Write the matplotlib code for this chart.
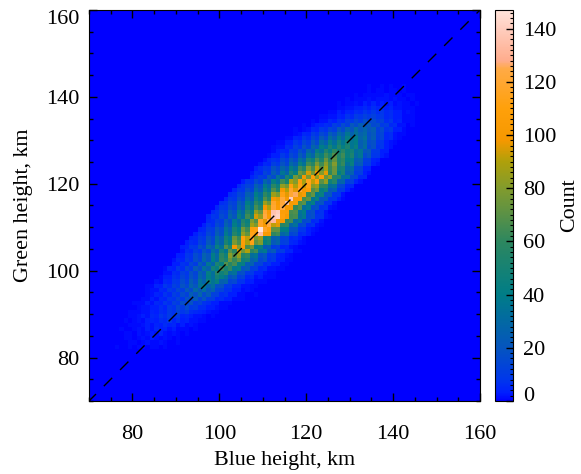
import numpy as np
import matplotlib
matplotlib.use('Agg')
import matplotlib.pyplot as plt
from matplotlib.colors import LinearSegmentedColormap, Normalize
from matplotlib.ticker import MultipleLocator

# histogram counts, one list per 1 km row of green height
first_green = 82
first_blue = [75, 76, 76, 77, 77, 78, 78, 78, 79, 80,
              80, 82, 82, 83, 83, 85, 86, 87, 87, 89,
              89, 90, 91, 91, 92, 93, 94, 95, 96, 97,
              97, 98, 99, 100, 101, 102, 103, 104, 105, 107,
              107, 108, 109, 110, 111, 112, 112, 113, 114, 115,
              116, 117, 118, 119, 120, 121, 122, 123, 124, 125, 126]
counts = [
    [0, 1, 0, 0, 1, 0, 1, 1, 0, 1, 1, 0, 1, 0, 0],
    [0, 0, 0, 1, 1, 0, 1, 2, 1, 1, 2, 1, 0, 0, 1, 0, 0],
    [0, 0, 1, 1, 0, 1, 2, 1, 3, 2, 1, 2, 1, 0, 1, 0, 0],
    [0, 1, 1, 0, 2, 1, 2, 3, 2, 4, 2, 1, 2, 1, 0, 1, 0],
    [1, 0, 0, 1, 2, 1, 3, 2, 5, 3, 4, 2, 3, 1, 1, 1, 0, 1, 0],
    [0, 1, 1, 1, 2, 3, 2, 4, 3, 6, 4, 5, 2, 3, 1, 2, 1, 0, 0],
    [1, 0, 1, 2, 1, 3, 4, 3, 6, 5, 8, 4, 7, 3, 4, 2, 2, 1, 1, 0, 0],
    [0, 1, 1, 2, 3, 2, 5, 4, 8, 6, 10, 7, 9, 4, 5, 3, 2, 2, 1, 0, 1],
    [1, 1, 1, 2, 2, 4, 3, 6, 5, 9, 7, 13, 8, 11, 6, 5, 4, 3, 2, 1, 1, 0, 0],
    [0, 1, 2, 2, 3, 3, 6, 4, 9, 7, 14, 10, 16, 9, 11, 6, 6, 3, 3, 2, 1, 1, 0],
    [1, 1, 1, 3, 2, 5, 4, 8, 6, 12, 9, 17, 12, 19, 10, 13, 7, 6, 3, 3, 1, 1, 1, 0, 0],
    [1, 1, 3, 2, 5, 4, 8, 7, 13, 9, 18, 14, 23, 13, 20, 11, 11, 5, 6, 3, 3, 1, 1, 1, 0],
    [0, 1, 2, 4, 3, 7, 5, 11, 8, 16, 12, 24, 18, 28, 16, 23, 12, 12, 6, 7, 3, 3, 1, 1, 0, 0, 1],
    [1, 2, 2, 5, 4, 9, 7, 14, 11, 21, 16, 30, 22, 33, 21, 27, 14, 13, 7, 7, 3, 3, 1, 2, 1, 0],
    [1, 1, 4, 3, 8, 6, 12, 9, 19, 14, 27, 20, 35, 38, 27, 33, 18, 19, 9, 10, 5, 5, 2, 2, 1, 1, 0],
    [2, 1, 5, 4, 9, 8, 16, 11, 24, 17, 34, 27, 44, 35, 43, 25, 27, 13, 15, 7, 7, 3, 3, 1, 1, 1],
    [1, 3, 3, 7, 6, 13, 9, 19, 14, 29, 22, 40, 33, 49, 42, 34, 19, 23, 11, 13, 5, 6, 2, 3, 1, 1, 1],
    [2, 2, 6, 5, 11, 8, 18, 13, 27, 21, 42, 33, 56, 46, 54, 31, 34, 17, 18, 9, 9, 4, 4, 2, 1, 1],
    [1, 4, 3, 8, 6, 14, 10, 22, 17, 33, 26, 48, 42, 63, 50, 61, 38, 42, 20, 24, 11, 12, 5, 6, 2, 2, 1, 1],
    [3, 3, 7, 6, 14, 10, 24, 17, 36, 28, 52, 44, 68, 56, 65, 42, 43, 24, 26, 13, 13, 6, 7, 3, 3, 1, 1],
    [2, 5, 4, 10, 7, 17, 13, 28, 20, 40, 31, 60, 52, 74, 62, 72, 46, 50, 26, 30, 14, 18, 7, 9, 3, 3, 1, 1],
    [3, 3, 8, 7, 16, 12, 26, 20, 41, 30, 58, 46, 82, 68, 84, 54, 60, 32, 36, 17, 20, 8, 10, 4, 3, 2, 1],
    [2, 6, 5, 11, 8, 19, 14, 31, 24, 47, 36, 70, 58, 94, 76, 90, 58, 64, 34, 38, 18, 22, 9, 10, 4, 4, 1, 1],
    [3, 4, 9, 8, 18, 13, 30, 22, 44, 34, 68, 54, 98, 80, 102, 66, 74, 40, 44, 21, 24, 10, 12, 4, 5, 2, 1],
    [3, 6, 5, 12, 9, 21, 15, 34, 26, 52, 40, 78, 66, 106, 90, 112, 72, 80, 42, 48, 22, 27, 11, 12, 5, 4, 2, 1],
    [4, 5, 10, 8, 19, 14, 32, 24, 47, 38, 74, 62, 110, 92, 118, 78, 86, 46, 52, 25, 28, 12, 13, 5, 6, 3, 1],
    [3, 7, 6, 14, 10, 24, 17, 38, 28, 56, 44, 84, 72, 114, 108, 134, 102, 100, 60, 64, 28, 33, 13, 15, 5, 6, 3, 1],
    [4, 5, 11, 10, 21, 16, 34, 26, 50, 40, 76, 64, 110, 112, 147, 118, 110, 72, 72, 40, 40, 19, 19, 8, 8, 3, 2, 1],
    [3, 8, 6, 15, 11, 26, 19, 41, 31, 60, 48, 88, 78, 116, 100, 124, 92, 96, 56, 60, 28, 34, 14, 16, 6, 7, 2, 1],
    [5, 6, 12, 10, 23, 17, 37, 28, 54, 44, 80, 68, 116, 96, 126, 132, 102, 100, 60, 64, 30, 36, 15, 16, 5, 6, 2],
    [4, 8, 7, 16, 12, 28, 20, 44, 33, 64, 50, 94, 84, 124, 104, 138, 142, 110, 102, 64, 66, 32, 38, 16, 18, 7, 7, 2, 1],
    [5, 7, 13, 11, 24, 18, 38, 30, 56, 44, 84, 72, 120, 100, 136, 140, 108, 106, 66, 68, 34, 40, 16, 18, 6, 7, 2],
    [4, 9, 8, 17, 13, 29, 21, 46, 35, 66, 54, 98, 90, 120, 104, 124, 100, 98, 62, 68, 32, 38, 17, 19, 7, 8, 2, 1],
    [6, 7, 14, 12, 25, 19, 40, 31, 58, 46, 86, 74, 118, 102, 122, 136, 102, 104, 66, 70, 36, 42, 18, 20, 7, 7, 2],
    [4, 10, 8, 18, 14, 31, 22, 47, 36, 68, 56, 100, 96, 122, 102, 140, 104, 104, 66, 72, 36, 44, 20, 21, 8, 8, 3, 1],
    [6, 7, 14, 12, 25, 20, 40, 32, 60, 48, 86, 78, 112, 96, 120, 126, 96, 102, 64, 72, 38, 44, 20, 21, 8, 8, 2],
    [4, 9, 8, 18, 13, 31, 23, 46, 36, 68, 54, 98, 90, 118, 96, 120, 100, 106, 68, 76, 42, 48, 22, 25, 9, 10, 3, 1],
    [5, 8, 13, 11, 25, 19, 39, 30, 58, 46, 84, 76, 110, 90, 112, 92, 112, 80, 86, 58, 58, 32, 34, 15, 14, 5, 5],
    [3, 8, 7, 16, 11, 28, 20, 43, 33, 64, 50, 90, 80, 108, 88, 114, 92, 108, 70, 84, 46, 56, 26, 28, 11, 12, 4, 2],
    [4, 7, 11, 9, 22, 16, 34, 25, 50, 40, 76, 66, 98, 78, 106, 84, 104, 74, 84, 56, 56, 32, 34, 15, 14, 5, 5],
    [2, 6, 5, 13, 9, 23, 16, 36, 27, 54, 42, 76, 68, 94, 76, 98, 80, 96, 60, 74, 40, 50, 24, 26, 10, 11, 3, 2],
    [3, 6, 9, 8, 19, 14, 28, 21, 42, 33, 64, 54, 80, 66, 90, 70, 88, 62, 74, 48, 50, 28, 30, 13, 13, 4, 4],
    [2, 5, 4, 11, 8, 19, 13, 30, 23, 44, 34, 64, 56, 78, 64, 82, 64, 80, 52, 62, 34, 44, 20, 23, 9, 10, 3, 2],
    [2, 5, 7, 6, 15, 11, 23, 17, 34, 27, 52, 44, 66, 52, 74, 58, 72, 52, 60, 40, 42, 24, 26, 11, 11, 4, 3],
    [1, 3, 3, 9, 6, 15, 11, 24, 17, 36, 28, 52, 44, 64, 52, 68, 54, 64, 44, 52, 30, 36, 16, 20, 8, 8, 3, 2],
    [1, 3, 5, 4, 11, 9, 18, 13, 28, 21, 42, 34, 54, 42, 60, 46, 58, 44, 48, 32, 36, 20, 22, 9, 9, 3, 3],
    [1, 2, 2, 6, 5, 12, 8, 19, 13, 28, 22, 40, 34, 50, 38, 54, 42, 52, 36, 44, 24, 32, 14, 18, 7, 8, 3, 2],
    [1, 1, 3, 3, 8, 6, 14, 10, 21, 15, 32, 25, 42, 32, 48, 36, 48, 36, 40, 24, 30, 16, 18, 8, 8, 3, 2, 1],
    [0, 1, 1, 4, 3, 8, 6, 14, 10, 22, 16, 32, 24, 38, 28, 42, 32, 40, 28, 34, 18, 24, 11, 14, 5, 6, 2, 1],
    [0, 0, 1, 2, 5, 4, 10, 7, 15, 11, 24, 18, 30, 24, 36, 26, 34, 26, 30, 18, 22, 12, 14, 5, 6, 2, 1, 1],
    [0, 1, 0, 1, 2, 5, 4, 9, 7, 14, 11, 22, 16, 28, 20, 32, 22, 28, 20, 24, 12, 16, 7, 9, 3, 3, 1, 0],
    [0, 0, 1, 0, 2, 3, 4, 6, 5, 11, 8, 16, 11, 21, 16, 24, 17, 23, 15, 17, 9, 11, 5, 6, 2, 2, 0, 1],
    [0, 0, 0, 1, 0, 2, 2, 5, 3, 7, 6, 12, 9, 15, 11, 18, 12, 16, 11, 13, 6, 8, 3, 4, 1, 1, 1, 0],
    [0, 0, 0, 0, 1, 1, 2, 2, 4, 3, 7, 5, 10, 8, 12, 9, 12, 8, 9, 5, 6, 3, 3, 1, 1, 1, 0],
    [0, 0, 0, 0, 0, 1, 1, 3, 2, 4, 3, 6, 5, 8, 6, 9, 6, 8, 5, 6, 3, 3, 1, 2, 1, 0, 0],
    [0, 0, 0, 0, 0, 0, 1, 1, 2, 2, 3, 3, 5, 3, 6, 4, 5, 3, 4, 2, 2, 1, 1, 1, 0, 0],
    [0, 0, 0, 0, 0, 1, 0, 1, 1, 2, 1, 3, 2, 4, 2, 3, 2, 3, 1, 2, 1, 1, 0, 1, 0, 0],
    [0, 0, 0, 0, 0, 0, 1, 0, 1, 1, 1, 2, 1, 2, 2, 2, 1, 2, 1, 1, 0, 1, 0, 0, 0],
    [0, 0, 0, 0, 0, 0, 0, 1, 0, 1, 1, 1, 1, 1, 2, 1, 1, 1, 0, 1, 1, 0, 0, 0],
    [0, 0, 0, 0, 0, 0, 0, 0, 0, 1, 0, 1, 1, 0, 1, 1, 0, 1, 0, 0, 0, 0],
    [0, 0, 0, 0, 0, 0, 0, 0, 1, 0, 0, 1, 0, 1, 0, 0, 1, 0, 0, 0],
]

cbar_ticks = [0, 20, 40, 60, 80, 100, 120, 140]
x_ticks = [80, 100, 120, 140, 160]
y_ticks = [80, 100, 120, 140, 160]

plt.rcParams['font.family'] = ['Liberation Serif']
W, H = 581, 474

# build the 1 km grid from the rows above
grid = np.zeros((90, 90))
for i, row in enumerate(counts):
    for j, val in enumerate(row):
        grid[first_green + i - 70, first_blue[i] + j - 70] = val

# colour table taken from the colour bar
stops = [(0, (0, 0, 255)), (3, (0, 30, 255)), (8, (0, 55, 235)), (20, (5, 85, 190)),
         (40, (0, 125, 135)), (60, (45, 135, 95)), (70, (90, 145, 70)), (80, (130, 155, 45)),
         (90, (175, 160, 10)), (98, (245, 152, 0)), (110, (255, 160, 10)), (125, (255, 170, 70)),
         (128, (255, 172, 140)), (140, (255, 205, 190)), (147, (255, 228, 218))]
cmap = LinearSegmentedColormap.from_list(
    'count', [(v / 147, tuple(c / 255 for c in rgb)) for v, rgb in stops], N=512)
norm = Normalize(0, 147)

fig = plt.figure(figsize=(W / 100, H / 100), dpi=100)
ax = fig.add_axes([89 / W, (H - 401) / H, 391 / W, 391 / H])
edges = np.arange(70, 161)
mesh = ax.pcolormesh(edges, edges, grid, cmap=cmap, norm=norm, rasterized=True)
ax.plot([70, 160], [70, 160], color='black', lw=1, linestyle=(1.4, (8.5, 8.0)))
ax.set_xlim(70, 160)
ax.set_ylim(70, 160)
ax.set_xticks(x_ticks)
ax.set_yticks(y_ticks)
ax.xaxis.set_minor_locator(MultipleLocator(5))
ax.yaxis.set_minor_locator(MultipleLocator(5))
ax.tick_params(which='major', direction='in', top=True, right=True, length=6, width=1, labelsize=16)
ax.tick_params(which='minor', direction='in', top=True, right=True, length=3, width=1)
ax.tick_params(axis='x', which='major', pad=17)
ax.tick_params(axis='y', which='major', pad=7)
ax.set_xlabel('Blue height, km', fontsize=15.8, labelpad=5)
ax.set_ylabel('Green height, km', fontsize=15.8, labelpad=9)
ax.get_yticklabels()[-1].set_va('top')

cax = fig.add_axes([495 / W, (H - 401) / H, 18 / W, 391 / H])
cb = fig.colorbar(mesh, cax=cax)
cb.set_ticks(cbar_ticks)
cb.ax.yaxis.set_minor_locator(MultipleLocator(2))
cb.ax.tick_params(which='major', direction='in', length=5, width=1, labelsize=16, pad=7)
cb.ax.tick_params(which='minor', direction='in', length=2.5, width=0.8)
cb.ax.get_yticklabels()[0].set_va('baseline')
cb.set_label('Count', fontsize=15.8, labelpad=3)

fig.savefig('out.png', dpi=100)
